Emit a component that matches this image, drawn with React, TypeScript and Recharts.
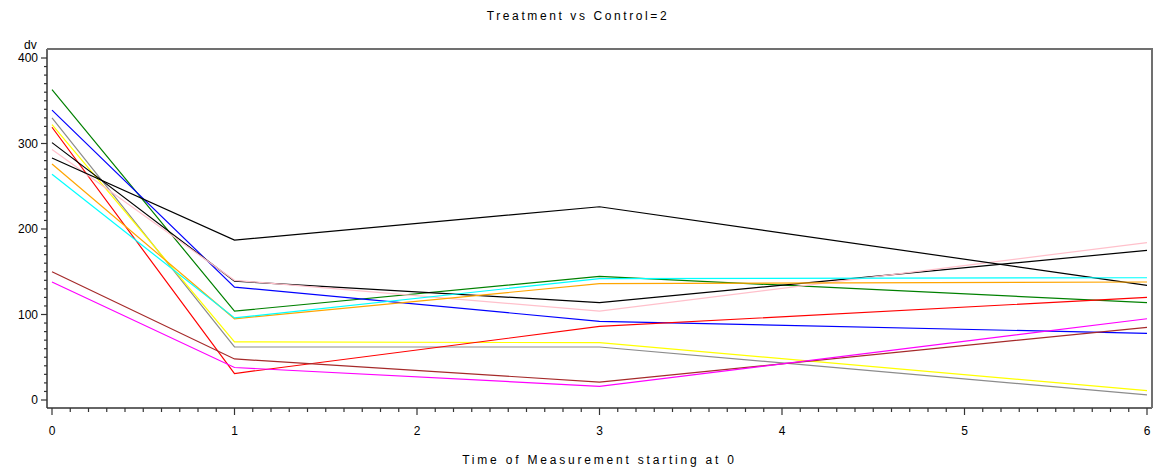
import React from "react";
import { LineChart, Line, XAxis, YAxis } from "recharts";

const times = [0, 1, 3, 6];

const green = [363, 104, 144.5, 114];
const blue = [339, 132, 92, 78];
const gray = [330, 62, 62, 6];
const yellow = [322, 68, 67, 11];
const red = [319, 31, 86, 120];
const blackA = [301, 139, 114, 175];
const pink = [293, 140, 104, 184];
const blackB = [283, 187, 226, 134];
const orange = [276, 95, 136, 138];
const cyan = [264, 96, 142, 143];
const brown = [150, 48, 21, 85];
const magenta = [138, 38, 16, 95];

const seriesList = [
  { key: "green", values: green, color: "#008000" },
  { key: "blue", values: blue, color: "#0000ff" },
  { key: "gray", values: gray, color: "#8c8c8c" },
  { key: "yellow", values: yellow, color: "#ffff00" },
  { key: "red", values: red, color: "#ff0000" },
  { key: "blackA", values: blackA, color: "#000000" },
  { key: "pink", values: pink, color: "#ffc0cb" },
  { key: "blackB", values: blackB, color: "#000000" },
  { key: "orange", values: orange, color: "#ffa500" },
  { key: "cyan", values: cyan, color: "#00ffff" },
  { key: "brown", values: brown, color: "#a52a2a" },
  { key: "magenta", values: magenta, color: "#ff00ff" },
];

const xMajorTicks = [0, 1, 2, 3, 4, 5, 6];
const yMajorTicks = [0, 100, 200, 300, 400];

// minor ticks every 0.1 on x, every 10 on y
const xTicks = Array.from({ length: 61 }, (_, i) => i / 10);
const yTicks = Array.from({ length: 41 }, (_, i) => i * 10);

const data = times.map((t, i) => {
  const row: Record<string, number> = { time: t };
  seriesList.forEach((s) => {
    row[s.key] = s.values[i];
  });
  return row;
});

const FONT = "'Liberation Sans', Arial, sans-serif";
const AXIS = "#333";

const isMajor = (v: number, list: number[]) =>
  list.some((m) => Math.abs(m - v) < 1e-6);

const XTick = (props: any) => {
  const { x, y, payload } = props;
  const major = isMajor(payload.value, xMajorTicks);
  return (
    <g>
      <line x1={x} x2={x} y1={y} y2={y + (major ? 7 : 4)} stroke={AXIS} strokeWidth={1.2} />
      {major && (
        <text
          x={x}
          y={y + 23}
          textAnchor="middle"
          dominantBaseline="central"
          fontSize={12}
          fontFamily={FONT}
          fill="#000"
        >
          {payload.value}
        </text>
      )}
    </g>
  );
};

const YTick = (props: any) => {
  const { x, y, payload } = props;
  const major = isMajor(payload.value, yMajorTicks);
  return (
    <g>
      <line x1={x} x2={x - (major ? 6 : 3)} y1={y} y2={y} stroke={AXIS} strokeWidth={1.2} />
      {major && (
        <text
          x={x - 9}
          y={y}
          textAnchor="end"
          dominantBaseline="central"
          fontSize={12}
          fontFamily={FONT}
          fill="#000"
        >
          {payload.value}
        </text>
      )}
    </g>
  );
};

export default function App() {
  return (
    <div
      style={{
        position: "absolute",
        left: 0,
        top: 0,
        width: 1156,
        height: 468,
        background: "#fff",
        fontFamily: FONT,
      }}
    >
      <div
        style={{
          position: "absolute",
          left: 0,
          width: 1156,
          top: 9,
          textAlign: "center",
          fontSize: 12,
          letterSpacing: 2.6,
          lineHeight: "14px",
        }}
      >
        Treatment vs Control=2
      </div>
      <div style={{ position: "absolute", left: 24, top: 38, fontSize: 12, lineHeight: "14px" }}>
        dv
      </div>
      <LineChart
        width={1156}
        height={468}
        data={data}
        margin={{ top: 49, right: 4, left: 0, bottom: 0 }}
      >
        <XAxis
          dataKey="time"
          type="number"
          domain={[0, 6]}
          ticks={xTicks}
          interval={0}
          tickSize={0}
          tickMargin={0}
          tickLine={false}
          tick={<XTick />}
          height={60}
          padding={{ left: 5, right: 5 }}
          axisLine={{ stroke: AXIS, strokeWidth: 1.5 }}
          label={{
            value: "Time of Measurement starting at 0",
            position: "insideBottom",
            offset: 4,
            fontSize: 12,
            fontFamily: FONT,
            fill: "#000",
            letterSpacing: 2.8,
          }}
        />
        <YAxis
          type="number"
          domain={[0, 400]}
          ticks={yTicks}
          interval={0}
          width={47}
          tickSize={0}
          tickMargin={0}
          tickLine={false}
          tick={<YTick />}
          padding={{ top: 9, bottom: 8 }}
          axisLine={{ stroke: AXIS, strokeWidth: 1.5 }}
        />
        {seriesList.map((s) => (
          <Line
            key={s.key}
            dataKey={s.key}
            type="linear"
            stroke={s.color}
            strokeWidth={1.2}
            dot={false}
            activeDot={false}
            isAnimationActive={false}
          />
        ))}
      </LineChart>
      <div
        style={{
          position: "absolute",
          left: 47,
          top: 48,
          width: 1106,
          height: 360,
          boxSizing: "border-box",
          borderTop: "2px solid #707070",
          borderRight: "2px solid #707070",
          pointerEvents: "none",
        }}
      />
    </div>
  );
}
